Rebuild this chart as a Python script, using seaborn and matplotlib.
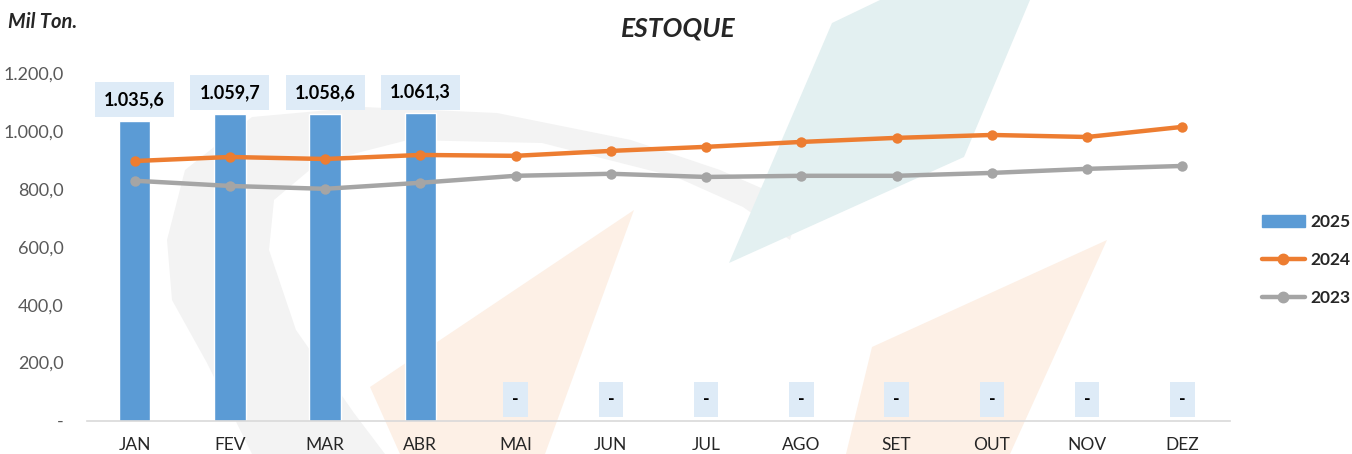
import numpy as np
import pandas as pd
import matplotlib
matplotlib.use("Agg")
import matplotlib.pyplot as plt
import seaborn as sns
from matplotlib.ticker import FuncFormatter
from matplotlib.lines import Line2D
from matplotlib.patches import Patch, Polygon

months = ["JAN", "FEV", "MAR", "ABR", "MAI", "JUN", "JUL", "AGO", "SET", "OUT", "NOV", "DEZ"]
v2025 = [1035.6, 1059.7, 1058.6, 1061.3, 0, 0, 0, 0, 0, 0, 0, 0]
v2024 = [896, 910, 903, 917, 914, 931, 945, 962, 976, 986, 979, 1014]
v2023 = [828, 810, 800, 821, 845, 852, 841, 845, 845, 855, 869, 879]
yticks = [0, 200, 400, 600, 800, 1000, 1200]

C25, C24, C23 = "#5B9BD5", "#ED7D31", "#A5A5A5"
BOX = "#DEEBF7"

sns.set_style("white")
plt.rcParams["font.family"] = ["Lato", "DejaVu Sans"]

W, H = 1352, 454
fig = plt.figure(figsize=(W / 100, H / 100), dpi=100)

# faint background watermark (decorative)
def px(pts):
    return [(x / W, 1 - y / H) for x, y in pts]

wm = [
    ([(252, 454), (207, 363), (172, 300), (167, 240), (185, 170), (252, 117), (363, 107),
      (497, 113), (631, 140), (720, 170), (800, 205), (790, 240), (743, 207), (676, 177),
      (542, 143), (408, 140), (318, 163), (274, 200), (269, 250), (296, 330), (354, 413),
      (385, 454)], "#F3F3F3"),
    ([(832, 23), (880, 0), (1030, 0), (964, 157), (729, 263)], "#E3F0F1"),
    ([(634, 210), (370, 387), (400, 454), (545, 454)], "#FDF0E6"),
    ([(1107, 240), (872, 347), (846, 454), (1010, 454)], "#FDF0E6"),
]
for pts, col in wm:
    fig.add_artist(Polygon(px(pts), closed=True, transform=fig.transFigure,
                           fc=col, ec="none", zorder=-5))

ax = fig.add_axes([87 / W, 1 - 420.5 / H, (1230 - 87) / W, (420.5 - 73) / H])
ax.set_zorder(1)

df = pd.DataFrame({"mes": months, "v2025": v2025, "v2024": v2024, "v2023": v2023})
df["pos"] = np.arange(len(months))

sns.barplot(data=df, x="mes", y="v2025", color=C25, width=0.33, saturation=1, ax=ax, zorder=2)
sns.lineplot(data=df, x="pos", y="v2024", color=C24, linewidth=3.2, marker="o",
             markersize=7.5, markeredgewidth=0, ax=ax, zorder=3)
sns.lineplot(data=df, x="pos", y="v2023", color=C23, linewidth=3.2, marker="o",
             markersize=7.5, markeredgewidth=0, ax=ax, zorder=3)

def br(v):
    if v == 0:
        return "-"
    s = f"{v:,.1f}"
    return s.replace(",", "X").replace(".", ",").replace("X", ".")

labels = [br(v) for v in v2025]
ax.bar_label(ax.containers[0], labels=labels, padding=9, fontsize=13, fontweight="bold",
             color="#000000", bbox=dict(boxstyle="square,pad=0.5", fc=BOX, ec="none"), zorder=4)

ax.set_xlim(-0.5, len(months) - 0.5)
ax.set_ylim(0, 1200)
ax.set_yticks(yticks)
ax.yaxis.set_major_formatter(FuncFormatter(lambda v, p: br(v)))
ax.tick_params(axis="y", length=0, pad=17, labelsize=13, labelcolor="#595959")
ax.tick_params(axis="x", length=0, pad=12, labelsize=12.5, labelcolor="#262626")
ax.set_xlabel("")
ax.set_ylabel("")
for s in ["top", "right", "left"]:
    ax.spines[s].set_visible(False)
ax.spines["bottom"].set_color("#D9D9D9")
ax.spines["bottom"].set_linewidth(1.2)
ax.patch.set_alpha(0)
fig.patch.set_facecolor("white")

fig.text(0.502, 0.938, "ESTOQUE", ha="center", va="center", fontsize=19,
         fontweight="bold", fontstyle="italic")
fig.text(0.006, 0.952, "Mil Ton.", ha="left", va="center", fontsize=14.5,
         fontweight="bold", fontstyle="italic")

handles = [Patch(color=C25),
           Line2D([0], [0], color=C24, lw=3.2, marker="o", ms=7.5),
           Line2D([0], [0], color=C23, lw=3.2, marker="o", ms=7.5)]
fig.legend(handles, ["2025", "2024", "2023"], loc="center left",
           bbox_to_anchor=(1262 / W, 1 - 260 / H), frameon=False, handlelength=2.47,
           labelspacing=1.25, handletextpad=0.3, borderpad=0, borderaxespad=0,
           prop={"weight": "bold", "size": 12.5})

fig.savefig("out.png", dpi=100)
